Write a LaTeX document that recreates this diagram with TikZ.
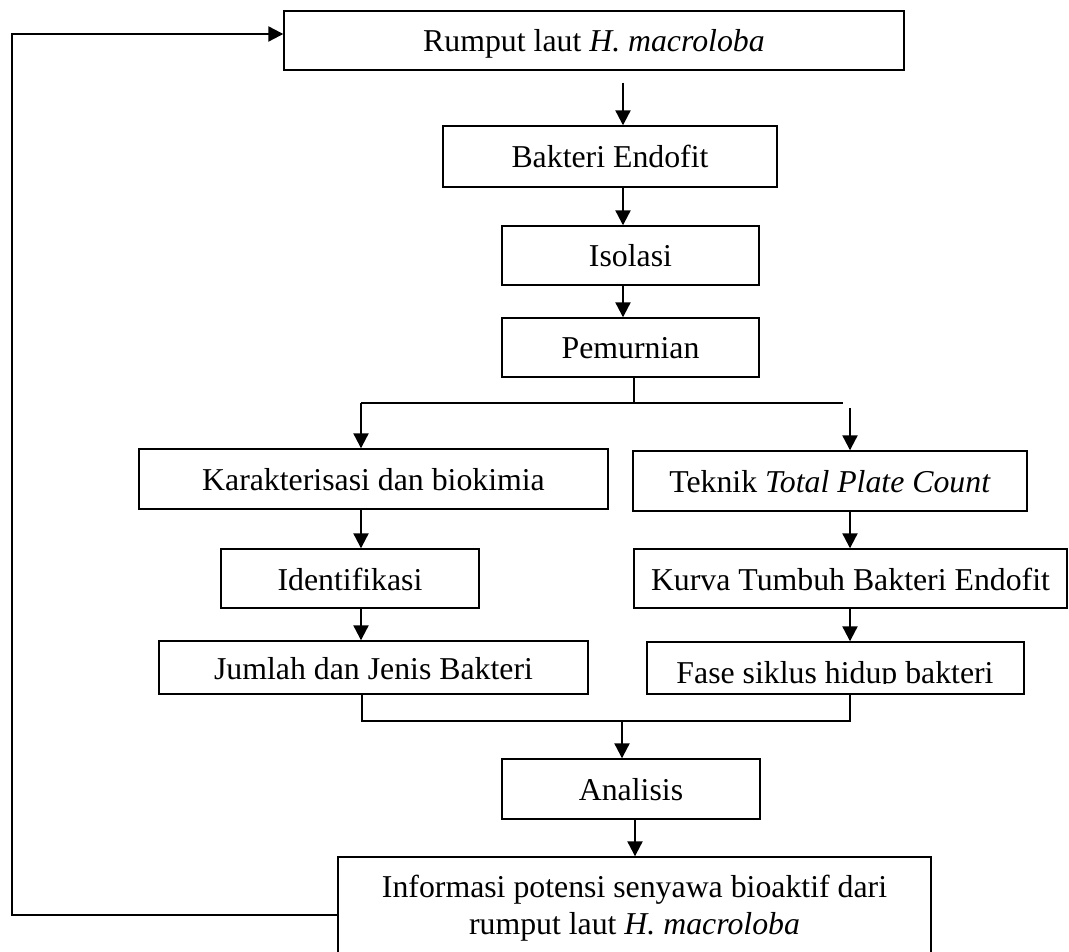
\documentclass[tikz,border=0pt]{standalone}
\usepackage{fontspec}
\setmainfont{Liberation Serif}
\usetikzlibrary{arrows.meta}
\begin{document}
\begin{tikzpicture}[x=1pt,y=-1pt,
  box/.style={draw, line width=1.4pt, inner sep=0pt, text height=23pt, text depth=0pt, font=\fontsize{31.8}{37}\selectfont},
  txt/.style={inner sep=0pt, text height=23pt, text depth=0pt, font=\fontsize{31.8}{37}\selectfont},
  infbox/.style={draw, line width=1.4pt, inner sep=0pt, align=center, font=\fontsize{31.8}{37}\selectfont},
  arr/.style={line width=2.2pt, -{Triangle[length=15pt,width=15pt]}},
  ln/.style={line width=1.5pt},
]
\useasboundingbox (0,0) rectangle (1069,952);
\fill[white] (0,0) rectangle (1069,952);

% boxes
\node[box, minimum width=620pt, minimum height=59pt] (top) at (594,40.5) {Rumput laut \textit{H. macroloba}};
\node[box, minimum width=334pt, minimum height=61pt] (bak) at (610,156.5) {Bakteri Endofit};
\node[box, minimum width=257pt, minimum height=59pt] (iso) at (630.5,255.5) {Isolasi};
\node[box, minimum width=257pt, minimum height=59pt] (pem) at (630.5,347.5) {Pemurnian};
\node[box, minimum width=469pt, minimum height=60pt] (kar) at (373.5,479) {Karakterisasi dan biokimia};
\node[box, minimum width=394pt, minimum height=60pt] (tek) at (830,481) {Teknik \textit{Total Plate Count}};
\node[box, minimum width=258pt, minimum height=59pt] (ide) at (350,578.5) {Identifikasi};
\node[box, minimum width=433pt, minimum height=59pt] (kur) at (850.5,578.5) {Kurva Tumbuh Bakteri Endofit};
\node[box, minimum width=429pt, minimum height=53pt] (jum) at (373.5,667.5) {Jumlah dan Jenis Bakteri};
\node[box, minimum width=377pt, minimum height=52pt] (fase) at (835.5,668) {};
\begin{scope}
  \clip (647,642) rectangle (1024,683.5);
  \node[txt] (fasetxt) at (835,671.5) {Fase siklus hidup bakteri};
\end{scope}
\node[box, minimum width=258pt, minimum height=60pt] (ana) at (631,789) {Analisis};
\node[infbox, minimum width=593pt, minimum height=102pt] (inf) at (634.5,908) {Informasi potensi senyawa bioaktif dari\\ rumput laut \textit{H. macroloba}};

% main chain
\coordinate (ax) at (623,0);
\path (top.south -| ax) ++(0,12) coordinate (a0);
\draw[arr] (a0) -- (bak.north -| ax);
\draw[arr] (bak.south -| ax) -- (iso.north -| ax);
\draw[arr] (iso.south -| ax) -- (pem.north -| ax);

% branch
\coordinate (pv) at (634,403);
\coordinate (brL) at (361,403);
\coordinate (brR) at (843,403);
\coordinate (brR2) at (850,408);
\draw[ln] (pem.south -| pv) -- (pv);
\draw[ln] (brL) -- (brR);
\draw[arr] (brL) -- (kar.north -| brL);
\draw[arr] (brR2) -- (tek.north -| brR2);
\draw[arr] (kar.south -| brL) -- (ide.north -| brL);
\draw[arr] (ide.south -| brL) -- (jum.north -| brL);
\draw[arr] (tek.south -| brR2) -- (kur.north -| brR2);
\draw[arr] (kur.south -| brR2) -- (fase.north -| brR2);

% merge
\coordinate (mL) at (362,721);
\coordinate (mR) at (850,721);
\coordinate (mC) at (622,721);
\draw[ln] (jum.south -| mL) -- (mL) -- (mR) -- (fase.south -| mR);
\draw[arr] (mC) -- (ana.north -| mC);
\coordinate (ax2) at (635,0);
\draw[arr] (ana.south -| ax2) -- (inf.north -| ax2);

% feedback
\coordinate (fb1) at (12,915);
\coordinate (fb2) at (12,34);
\draw[arr] (inf.west |- fb1) -- (fb1) -- (fb2) -- (top.west |- fb2);
\end{tikzpicture}
\end{document}
